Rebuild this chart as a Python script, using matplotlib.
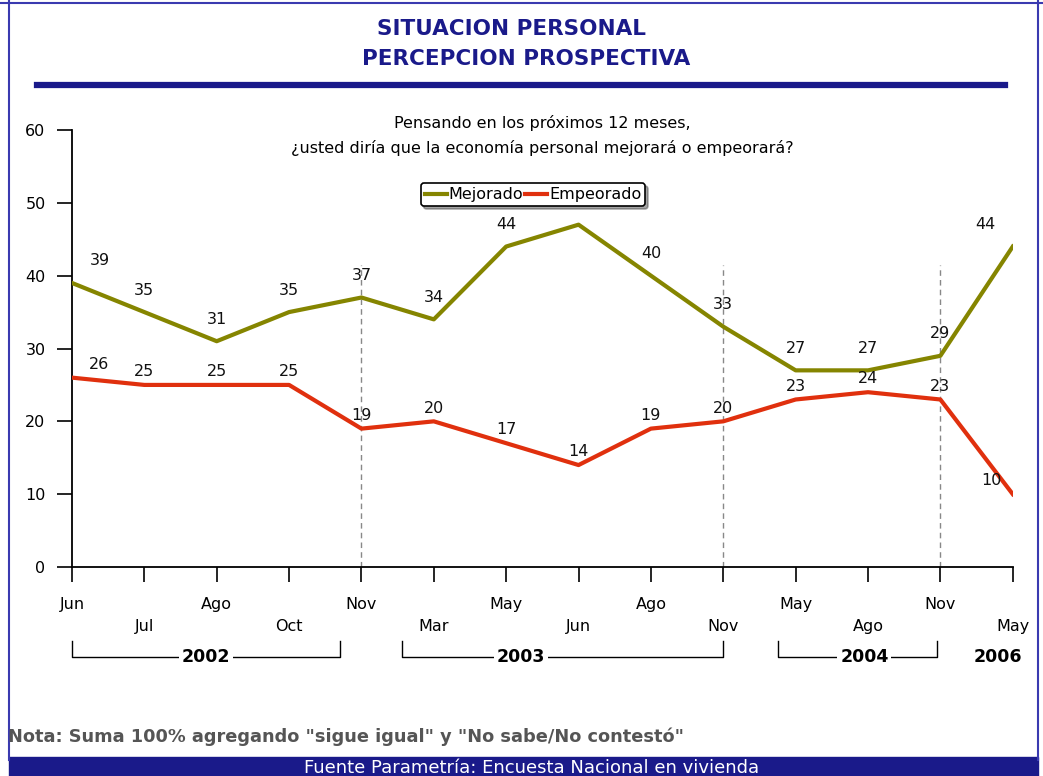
import numpy as np
import matplotlib
matplotlib.use("Agg")
from matplotlib import pyplot as plt
from matplotlib.patches import Rectangle
import matplotlib.transforms as mtransforms

# data
months = ["Jun", "Jul", "Ago", "Oct", "Nov", "Mar", "May", "Jun", "Ago", "Nov",
          "May", "Ago", "Nov", "May"]
mejorado = [39, 35, 31, 35, 37, 34, 44, 47, 40, 33, 27, 27, 29, 44]
empeorado = [26, 25, 25, 25, 19, 20, 17, 14, 19, 20, 23, 24, 23, 10]
mejorado_labels = ["39", "35", "31", "35", "37", "34", "44", "", "40", "33", "27", "27", "29", "44"]
empeorado_labels = ["26", "25", "25", "25", "19", "20", "17", "14", "19", "20", "23", "24", "23", "10"]
years = ["2002", "2003", "2004", "2006"]

olive = "#858500"
red = "#e0300e"
navy = "#1a1a8a"

fig = plt.figure(figsize=(10.43, 7.76), dpi=100)
fig.patch.set_facecolor("white")

# frame and header lines
fig.add_artist(plt.Line2D([0.009, 0.009], [0.02, 1.0], color="#3a3ab0", lw=1.5))
fig.add_artist(plt.Line2D([0.995, 0.995], [0.02, 1.0], color="#3a3ab0", lw=1.5))
fig.add_artist(plt.Line2D([0.0, 1.0], [0.996, 0.996], color="#3a3ab0", lw=1.5))
fig.add_artist(plt.Line2D([0.035, 0.964], [0.890, 0.890], color=navy, lw=4.5))
fig.add_artist(Rectangle((0.009, 0.0), 0.986, 0.024, transform=fig.transFigure,
                         color=navy, zorder=0))

fig.text(0.49, 0.963, "SITUACION PERSONAL", ha="center", va="center",
         fontsize=15.5, color=navy, fontweight="bold")
fig.text(0.504, 0.924, "PERCEPCION PROSPECTIVA", ha="center", va="center",
         fontsize=15.5, color=navy, fontweight="bold")
fig.text(0.008, 0.050, 'Nota: Suma 100% agregando "sigue igual" y "No sabe/No contestó"',
         ha="left", va="center", fontsize=12.8, color="#555555", fontweight="bold")
fig.text(0.51, 0.010, "Fuente Parametría: Encuesta Nacional en vivienda",
         ha="center", va="center", fontsize=13, color="white")

ax = fig.add_axes([0.069, 0.2693, 0.902, 0.5632])
x = np.arange(len(months))

for i in [4, 9, 12]:
    ax.plot([i, i], [0, 41.5], color="#888888", lw=1, ls=(0, (4, 3)), zorder=1)

ax.plot(x, mejorado, color=olive, lw=3, label="Mejorado", zorder=3)
ax.plot(x, empeorado, color=red, lw=3, label="Empeorado", zorder=3)

last = len(x) - 1
for i in x:
    dx = 0.38 if i == 0 else (-0.38 if i == last else 0)
    if mejorado_labels[i]:
        ax.text(i + dx, mejorado[i] + 2.0, mejorado_labels[i], ha="center", va="bottom",
                fontsize=11.5, color="#111111")
    dxe = 0.38 if i == 0 else (-0.3 if i == last else 0)
    ax.text(i + dxe, empeorado[i] + 0.8, empeorado_labels[i], ha="center", va="bottom",
            fontsize=11.5, color="#111111")

ax.set_xlim(0, last)
ax.set_ylim(0, 60)
ax.set_yticks(np.arange(0, 61, 10))
ax.set_xticks(x)
ax.set_xticklabels([])
ax.tick_params(axis="y", direction="out", length=11, width=1.2, labelsize=11.5, pad=8)
ax.tick_params(axis="x", direction="out", length=11, width=1.2)
for s in ["top", "right"]:
    ax.spines[s].set_visible(False)
for s in ["left", "bottom"]:
    ax.spines[s].set_linewidth(1.3)

trans = mtransforms.blended_transform_factory(ax.transData, ax.transAxes)
for i, m in enumerate(months):
    yy = -0.085 if i % 2 == 0 else -0.135
    ax.text(i, yy, m, transform=trans, ha="center", va="center", fontsize=11.5)

# year brackets
brackets = [(0, 3.7, 1.85, 0), (4.56, 9.0, 6.2, 1), (9.75, 11.95, 10.95, 2)]
by = -0.205
for x0, x1, xt, k in brackets:
    ax.plot([x0, x0, x1, x1], [-0.17, by, by, -0.17], transform=trans,
            color="black", lw=1, clip_on=False)
    ax.text(xt, by, years[k], transform=trans, ha="center", va="center", fontsize=12.5,
            fontweight="bold", bbox=dict(facecolor="white", edgecolor="none", pad=2))
ax.text(12.8, by, years[3], transform=trans, ha="center", va="center", fontsize=12.5,
        fontweight="bold")

ax.text(0.5, 1.015, "Pensando en los próximos 12 meses,", transform=ax.transAxes,
        ha="center", va="center", fontsize=11.5)
ax.text(0.5, 0.958, "¿usted diría que la economía personal mejorará o empeorará?",
        transform=ax.transAxes, ha="center", va="center", fontsize=11.5)

leg = ax.legend(loc="center", bbox_to_anchor=(0.49, 0.852), ncol=2, frameon=True,
                fontsize=11.5, handlelength=1.4, handletextpad=0.1, columnspacing=0.1,
                borderpad=0.25, fancybox=True, shadow=True)
leg.get_frame().set_edgecolor("black")
leg.get_frame().set_linewidth(1.2)

fig.savefig("out.png", dpi=100)
